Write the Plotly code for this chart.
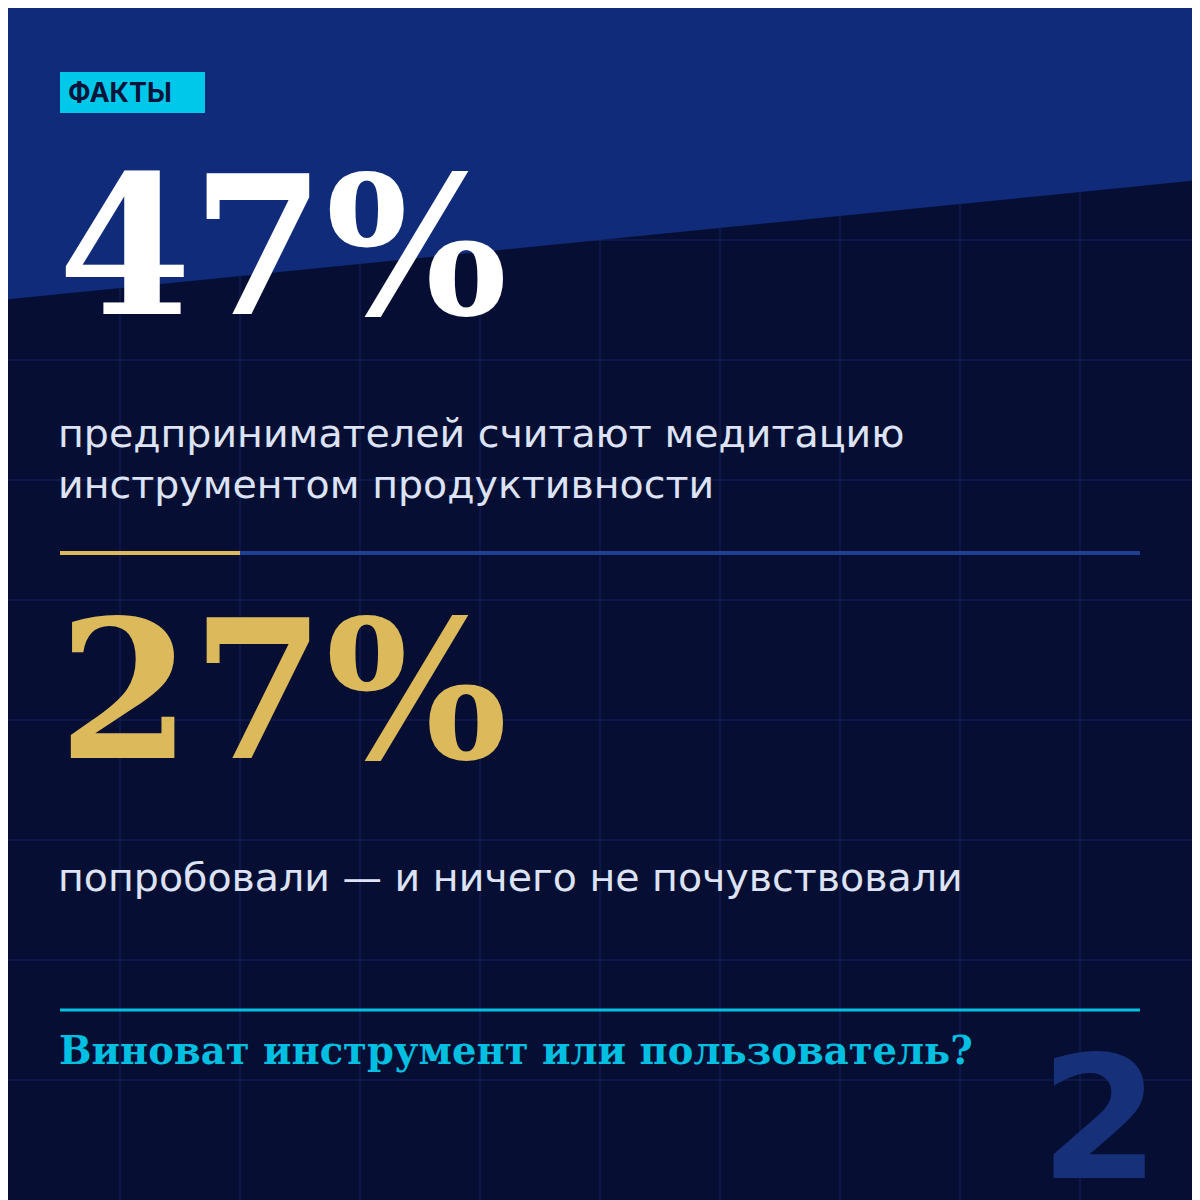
import plotly.graph_objects as go

badge = "ФАКТЫ"
stat_values = ["47%", "27%"]
stat_texts = ["предпринимателей считают медитацию<br>инструментом продуктивности",
              "попробовали — и ничего не почувствовали"]
question = "Виноват инструмент или пользователь?"
page_no = "2"

fig = go.Figure()
shapes = []
for i in range(1, 10):
    v = i * 120
    shapes.append(dict(type="line", x0=v, x1=v, y0=0, y1=1210, line=dict(color="#13245e", width=1), layer="below"))
    shapes.append(dict(type="line", x0=0, x1=1210, y0=v, y1=v, line=dict(color="#13245e", width=1), layer="below"))
shapes.append(dict(type="path", path="M0,0 L1210,0 L1210,179 L0,300 Z", fillcolor="#0f2b7a", line=dict(width=0), layer="below"))
shapes.append(dict(type="rect", x0=60, x1=205, y0=72, y1=113, fillcolor="#00c8ea", line=dict(width=0)))
shapes.append(dict(type="line", x0=240, x1=1140, y0=553, y1=553, line=dict(color="#1f3f91", width=4)))
shapes.append(dict(type="line", x0=60, x1=240, y0=553, y1=553, line=dict(color="#dcb95a", width=4)))
shapes.append(dict(type="line", x0=60, x1=1140, y0=1010, y1=1010, line=dict(color="#00bfe0", width=3)))

ann = []
def A(x, y, t, size, color, family, xa="left"):
    ann.append(dict(x=x, y=y, text=t, showarrow=False, xanchor=xa, yanchor="middle",
                    font=dict(size=size, color=color, family=family), align="left"))

A(66, 92, "<b>" + badge + "</b>", 27, "#06133a", "Inter")
A(56, 246, "<b>" + stat_values[0] + "</b>", 192, "#ffffff", "DejaVu Serif")
A(56, 458, stat_texts[0], 39.5, "#dde3f5", "DejaVu Sans")
A(56, 690, "<b>" + stat_values[1] + "</b>", 192, "#dcb95a", "DejaVu Serif")
A(56, 877, stat_texts[1], 39.5, "#dde3f5", "DejaVu Sans")
A(57, 1050, "<b>" + question + "</b>", 38.5, "#00bfe0", "DejaVu Serif")
A(1162, 1118, "<b>" + page_no + "</b>", 172, "#17307a", "DejaVu Sans", xa="right")

fig.update_layout(width=1200, height=1200, margin=dict(l=0, r=0, t=0, b=0),
                  plot_bgcolor="#060f33", paper_bgcolor="#060f33",
                  shapes=shapes, annotations=ann, showlegend=False,
                  xaxis=dict(range=[8, 1208], visible=False, fixedrange=True),
                  yaxis=dict(range=[1208, 8], visible=False, fixedrange=True))
fig.write_html("out.html")
